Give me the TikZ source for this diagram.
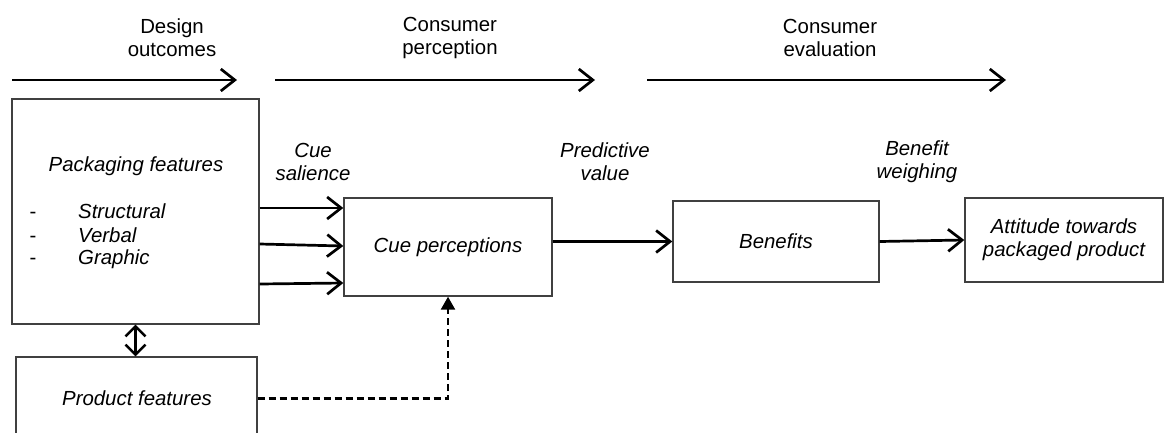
\documentclass[tikz,border=0pt]{standalone}
\usepackage{fontspec}
\setmainfont{Liberation Sans}
\usetikzlibrary{arrows.meta}

\begin{document}
\begin{tikzpicture}[x=1pt,y=-1pt,
    txt/.style={font=\fontsize{20.4}{23}\selectfont, align=center, inner sep=0pt},
    itxt/.style={font=\fontsize{20.4}{23}\selectfont\itshape, align=center, inner sep=0pt},
    box/.style={draw=black!75, line width=1.4pt, inner sep=0pt},
    flow/.style={line width=2.7pt, -{Straight Barb[length=14pt,width=22pt]}},
    both/.style={line width=2.4pt, {Straight Barb[length=10pt,width=20pt]}-{Straight Barb[length=10pt,width=20pt]}},
    hint/.style={line width=2.4pt, dash pattern=on 7pt off 4pt, -{Triangle[length=13pt,width=14pt]}}]
              \useasboundingbox (0,0) rectangle (1167,432);

              \node [txt] (DO) at (172,38) {Design\\outcomes};
              \node [txt] (CP) at (450,38) {Consumer\\perception};
              \node [txt] (CE) at (830,38) {Consumer\\evaluation};

              \coordinate (DOs) at (12,80);
              \coordinate (DOt) at (237,80);
              \coordinate (CPs) at (275,80);
              \coordinate (CPt) at (595,80);
              \coordinate (CEs) at (647,80);
              \coordinate (CEt) at (1006,80);

                \draw[flow] (DOs) -- (DOt);
                \draw[flow] (CPs) -- (CPt);
                \draw[flow] (CEs) -- (CEt);

              \node [box, minimum width=247pt, minimum height=225pt] (pack) at (135.5,211.5) {};
              \node [itxt] (packT) at (136,166) {Packaging features};
              \node [txt, text height=15pt, text depth=4pt] (d1) at (33,213) {-};
              \node [txt, text height=15pt, text depth=4pt] (d2) at (33,237) {-};
              \node [txt, text height=15pt, text depth=4pt] (d3) at (33,259) {-};
              \node [itxt, anchor=west, text height=15pt, text depth=4pt] (st) at (78,213) {Structural};
              \node [itxt, anchor=west, text height=15pt, text depth=4pt] (ve) at (78,237) {Verbal};
              \node [itxt, anchor=west, text height=15pt, text depth=4pt] (gr) at (78,259) {Graphic};

              \node [box, minimum width=241pt, minimum height=83pt] (prod) at (136.5,398.5) {};
              \node [itxt] (prodT) at (137,398) {Product features};

              \node [box, itxt, draw=black!75, line width=1.4pt, minimum width=208pt, minimum height=98pt] (cue) at (448,247) {Cue perceptions};
              \node [box, itxt, draw=black!75, line width=1.4pt, minimum width=206pt, minimum height=81pt] (ben) at (776,241.5) {Benefits};
              \node [box, itxt, draw=black!75, line width=1.4pt, minimum width=198pt, minimum height=84pt] (att) at (1064,240) {Attitude towards\\packaged product};

              \node [itxt] (CS) at (313,162) {Cue\\salience};
              \node [itxt] (PV) at (605,162) {Predictive\\value};
              \node [itxt] (BW) at (917,162) {Benefit\\weighing};

                \draw[flow] (pack.east |- 0,208) -- (cue.west |- 0,208);
                \draw[flow] (pack.east |- 0,244) -- (cue.west |- 0,246);
                \draw[flow] (pack.east |- 0,284) -- (cue.west |- 0,283);
                \draw[flow] (cue.east |- ben.west) -- (ben.west);
                \draw[flow] (ben.east) -- (att.west);

                \draw[both] (pack.south) -- (pack.south |- prod.north);
                \draw[hint] (prod.east) -| (cue.south);
\end{tikzpicture}
\end{document}
